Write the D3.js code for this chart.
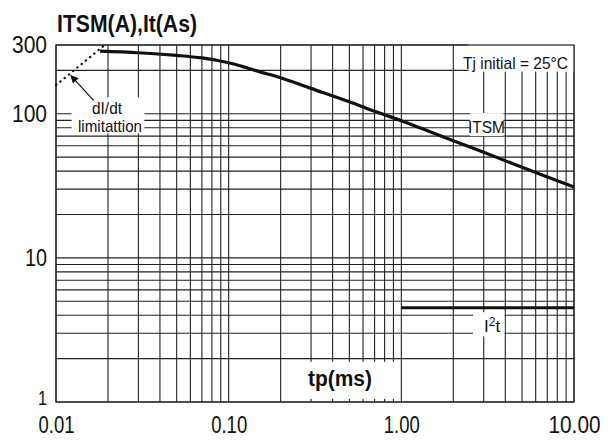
<!DOCTYPE html>
<html>
<head>
<meta charset="utf-8">
<script src="https://cdn.jsdelivr.net/npm/d3@7"></script>
<style>
  body { margin: 0; background: #fff; }
  text { font-family: "Liberation Sans", Arial, sans-serif; fill: #111; }
</style>
</head>
<body>
<div id="chart"></div>
<script>
// ITSM curve
const tp = [0.018, 0.03, 0.05, 0.07, 0.1, 0.125, 0.15, 0.2, 0.3, 0.5, 0.7, 1, 2, 3, 5, 10];
const itsm = [272, 265, 254, 244, 226, 210, 196, 178, 150, 121, 104, 89.5, 65, 54, 42.5, 31];
// I2t line
const i2tT = [1, 10];
const i2tV = [4.5, 4.5];
// dI/dt limitation (dotted)
const dtT = [0.01, 0.0195];
const dtV = [158, 305];
const xTicks = [0.01, 0.1, 1, 10];
const yTicks = [1, 10, 100, 300];

let w = 612, h = 441;
let m = { top: 45, right: 38, bottom: 39, left: 56 };

let svg = d3.select("#chart").append("svg").attr("width", w).attr("height", h);

let xS = d3.scaleLog().domain([0.01, 10]).range([m.left, w - m.right]);
let yS = d3.scaleLog().domain([1, 300]).range([h - m.bottom, m.top]);

// squeeze text to the narrow face of the original
function fit(sel, width) {
    sel.attr("textLength", width).attr("lengthAdjust", "spacingAndGlyphs");
    return sel;
}

// grid
let grid = svg.append("g").attr("stroke", "#222").attr("stroke-width", 1.1);
grid.selectAll(".v").data(xS.ticks()).enter().append("line")
    .attr("x1", d => xS(d)).attr("x2", d => xS(d))
    .attr("y1", yS(1)).attr("y2", yS(300));
grid.selectAll(".h").data(yS.ticks()).enter().append("line")
    .attr("x1", xS(0.01)).attr("x2", xS(10))
    .attr("y1", d => yS(d)).attr("y2", d => yS(d));

// white label boxes cutting the grid
function box(x0, y0, x1, y1) {
    svg.append("rect").attr("x", x0).attr("y", y0).attr("width", x1 - x0).attr("height", y1 - y0).attr("fill", "#fff");
}
box(xS(0.0123), yS(130), xS(0.0325), yS(73));    // dI/dt
box(xS(2.5), yS(101), xS(3.9), yS(70));          // ITSM
box(xS(2.6), yS(4.2), xS(3.95), yS(2.85));       // I2t
box(xS(0.27), yS(1.9), xS(0.92), yS(1.05));      // tp(ms)
box(xS(2.45), yS(310), xS(10), yS(196));         // Tj initial

// frame
svg.append("rect").attr("x", xS(0.01)).attr("y", yS(300))
    .attr("width", xS(10) - xS(0.01)).attr("height", yS(1) - yS(300))
    .attr("fill", "none").attr("stroke", "#222").attr("stroke-width", 1.2);

svg.append("path").datum(tp.map((t, i) => [t, itsm[i]]))
    .attr("d", d3.line().x(d => xS(d[0])).y(d => yS(d[1])).curve(d3.curveCatmullRom))
    .attr("fill", "none").attr("stroke", "#111").attr("stroke-width", 3.2);

svg.append("path").datum(i2tT.map((t, i) => [t, i2tV[i]]))
    .attr("d", d3.line().x(d => xS(d[0])).y(d => yS(d[1])))
    .attr("fill", "none").attr("stroke", "#111").attr("stroke-width", 3);

svg.append("path").datum(dtT.map((t, i) => [t, dtV[i]]))
    .attr("d", d3.line().x(d => xS(d[0])).y(d => yS(d[1])))
    .attr("fill", "none").attr("stroke", "#111").attr("stroke-width", 2.2)
    .attr("stroke-dasharray", "0.5,5").attr("stroke-linecap", "round");

// arrow
svg.append("defs").append("marker").attr("id", "ah")
    .attr("viewBox", "0 0 10 10").attr("refX", 9).attr("refY", 5)
    .attr("markerWidth", 12).attr("markerHeight", 8).attr("orient", "auto")
    .attr("markerUnits", "userSpaceOnUse")
    .append("path").attr("d", "M0,0L10,5L0,10Z").attr("fill", "#111");
svg.append("line")
    .attr("x1", xS(0.0165)).attr("y1", yS(124))
    .attr("x2", xS(0.0122)).attr("y2", yS(184))
    .attr("stroke", "#111").attr("stroke-width", 1.2).attr("marker-end", "url(#ah)");

// axes labels
let xAx = svg.append("g").attr("transform", `translate(0,${yS(1)})`)
    .call(d3.axisBottom(xS).tickValues(xTicks).tickFormat(d3.format(".2f")).tickSize(0).tickPadding(15));
let yAx = svg.append("g").attr("transform", `translate(${xS(0.01)},0)`)
    .call(d3.axisLeft(yS).tickValues(yTicks).tickFormat(d3.format("d")).tickSize(0).tickPadding(9));
[xAx, yAx].forEach(a => {
    a.select(".domain").remove();
    a.selectAll("text").attr("font-family", null).style("font-size", "23px").attr("fill", "#111");
});
xAx.selectAll("text").each(function(d) { fit(d3.select(this), d === 10 ? 52 : 36); });
yAx.selectAll("text").each(function(d) { fit(d3.select(this), d === 1 ? 9 : d === 10 ? 22 : 35); });
// the "1" sits just above the "0.01"
yAx.selectAll(".tick").filter(d => d === 1).select("text")
    .style("font-size", "21px").attr("dy", "0.1em");

// texts
fit(svg.append("text").attr("x", 57).attr("y", 32).text("ITSM(A),It(As)")
    .style("font-size", "24px").style("font-weight", "bold"), 140);
fit(svg.append("text").attr("x", 340).attr("y", 386).attr("text-anchor", "middle").text("tp(ms)")
    .style("font-size", "22px").style("font-weight", "bold"), 64);
fit(svg.append("text").attr("x", 463).attr("y", 69).text("Tj initial = 25°C")
    .style("font-size", "17px"), 105);
fit(svg.append("text").attr("x", 468).attr("y", 133).text("ITSM")
    .style("font-size", "17px"), 37);
let i2 = svg.append("text").attr("x", 484).attr("y", 332).style("font-size", "17px");
i2.append("tspan").text("I");
i2.append("tspan").attr("dy", -6).style("font-size", "12px").text("2");
i2.append("tspan").attr("dy", 6).text("t");
fit(svg.append("text").attr("x", 107).attr("y", 114).attr("text-anchor", "middle").text("dI/dt")
    .style("font-size", "17px"), 30);
fit(svg.append("text").attr("x", 110).attr("y", 132).attr("text-anchor", "middle").text("limitattion")
    .style("font-size", "17px"), 64);
</script>
</body>
</html>
